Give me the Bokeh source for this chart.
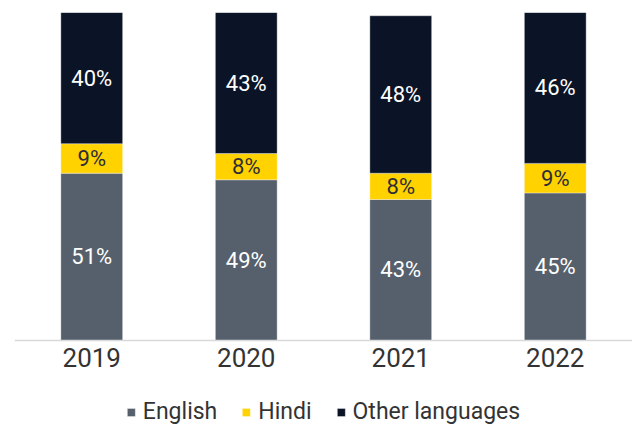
from bokeh.plotting import figure
from bokeh.models import ColumnDataSource, Legend, LegendItem, FactorRange
from bokeh.core.properties import value
from bokeh.embed import file_html
from bokeh.resources import INLINE

years = ["2019", "2020", "2021", "2022"]
english = [51, 49, 43, 45]
hindi = [9, 8, 8, 9]
other = [40, 43, 48, 46]
series_names = ["English", "Hindi", "Other languages"]
colors = ["#56606C", "#FFD200", "#0B1426"]
label_colors = ["#FFFFFF", "#2E2E38", "#FFFFFF"]

src = ColumnDataSource(dict(years=years, English=english, Hindi=hindi, Other=other))

# frame spans 414 px; 100 units -> 328 px, leaving 86 px below the baseline
p = figure(x_range=FactorRange(*years, range_padding=0), y_range=(-86 * 100 / 328, 100),
           frame_width=618, frame_height=414,
           output_backend="svg", toolbar_location=None,
           min_border_top=12, min_border_left=14, min_border_right=0, min_border_bottom=0)

rs = p.vbar_stack(["English", "Hindi", "Other"], x="years", width=0.4, color=colors,
                  line_color="#FFFFFF", line_width=0.6, line_alpha=0.6, source=src)

# labels
lx, ly, lt, lc = [], [], [], []
for i, y in enumerate(years):
    base = 0
    for vals, col in zip([english, hindi, other], label_colors):
        v = vals[i]
        lx.append(y)
        ly.append(base + v / 2)
        lt.append(f"{v}%")
        lc.append(col)
        base += v
lsrc = ColumnDataSource(dict(x=lx, y=ly, t=lt, c=lc))
p.text(x="x", y="y", text="t", text_color="c", source=lsrc,
       text_align="center", text_baseline="middle",
       text_font=value("Roboto"), text_font_size="22px")

p.yaxis.visible = False
p.xgrid.grid_line_color = None
p.ygrid.grid_line_color = None
p.outline_line_color = None
p.xaxis.fixed_location = 0
p.xaxis.axis_line_color = "#D9D9D9"
p.xaxis.axis_line_width = 1.5
p.xaxis.major_tick_line_color = None
p.xaxis.minor_tick_line_color = None
p.xaxis.major_label_text_font = "Roboto"
p.xaxis.major_label_text_font_size = "26px"
p.xaxis.major_label_text_color = "#333333"
p.xaxis.major_label_standoff = 1

legend = Legend(items=[LegendItem(label=n, renderers=[r]) for n, r in zip(series_names, rs)],
                orientation="horizontal", location="bottom_center",
                glyph_width=10, glyph_height=10, label_standoff=7, spacing=24,
                padding=0, margin=1, border_line_color=None, background_fill_alpha=0,
                label_text_font="Roboto", label_text_font_size="23px",
                label_text_color="#333333")
p.add_layout(legend, "center")

open("out.html", "w").write(file_html(p, INLINE))
